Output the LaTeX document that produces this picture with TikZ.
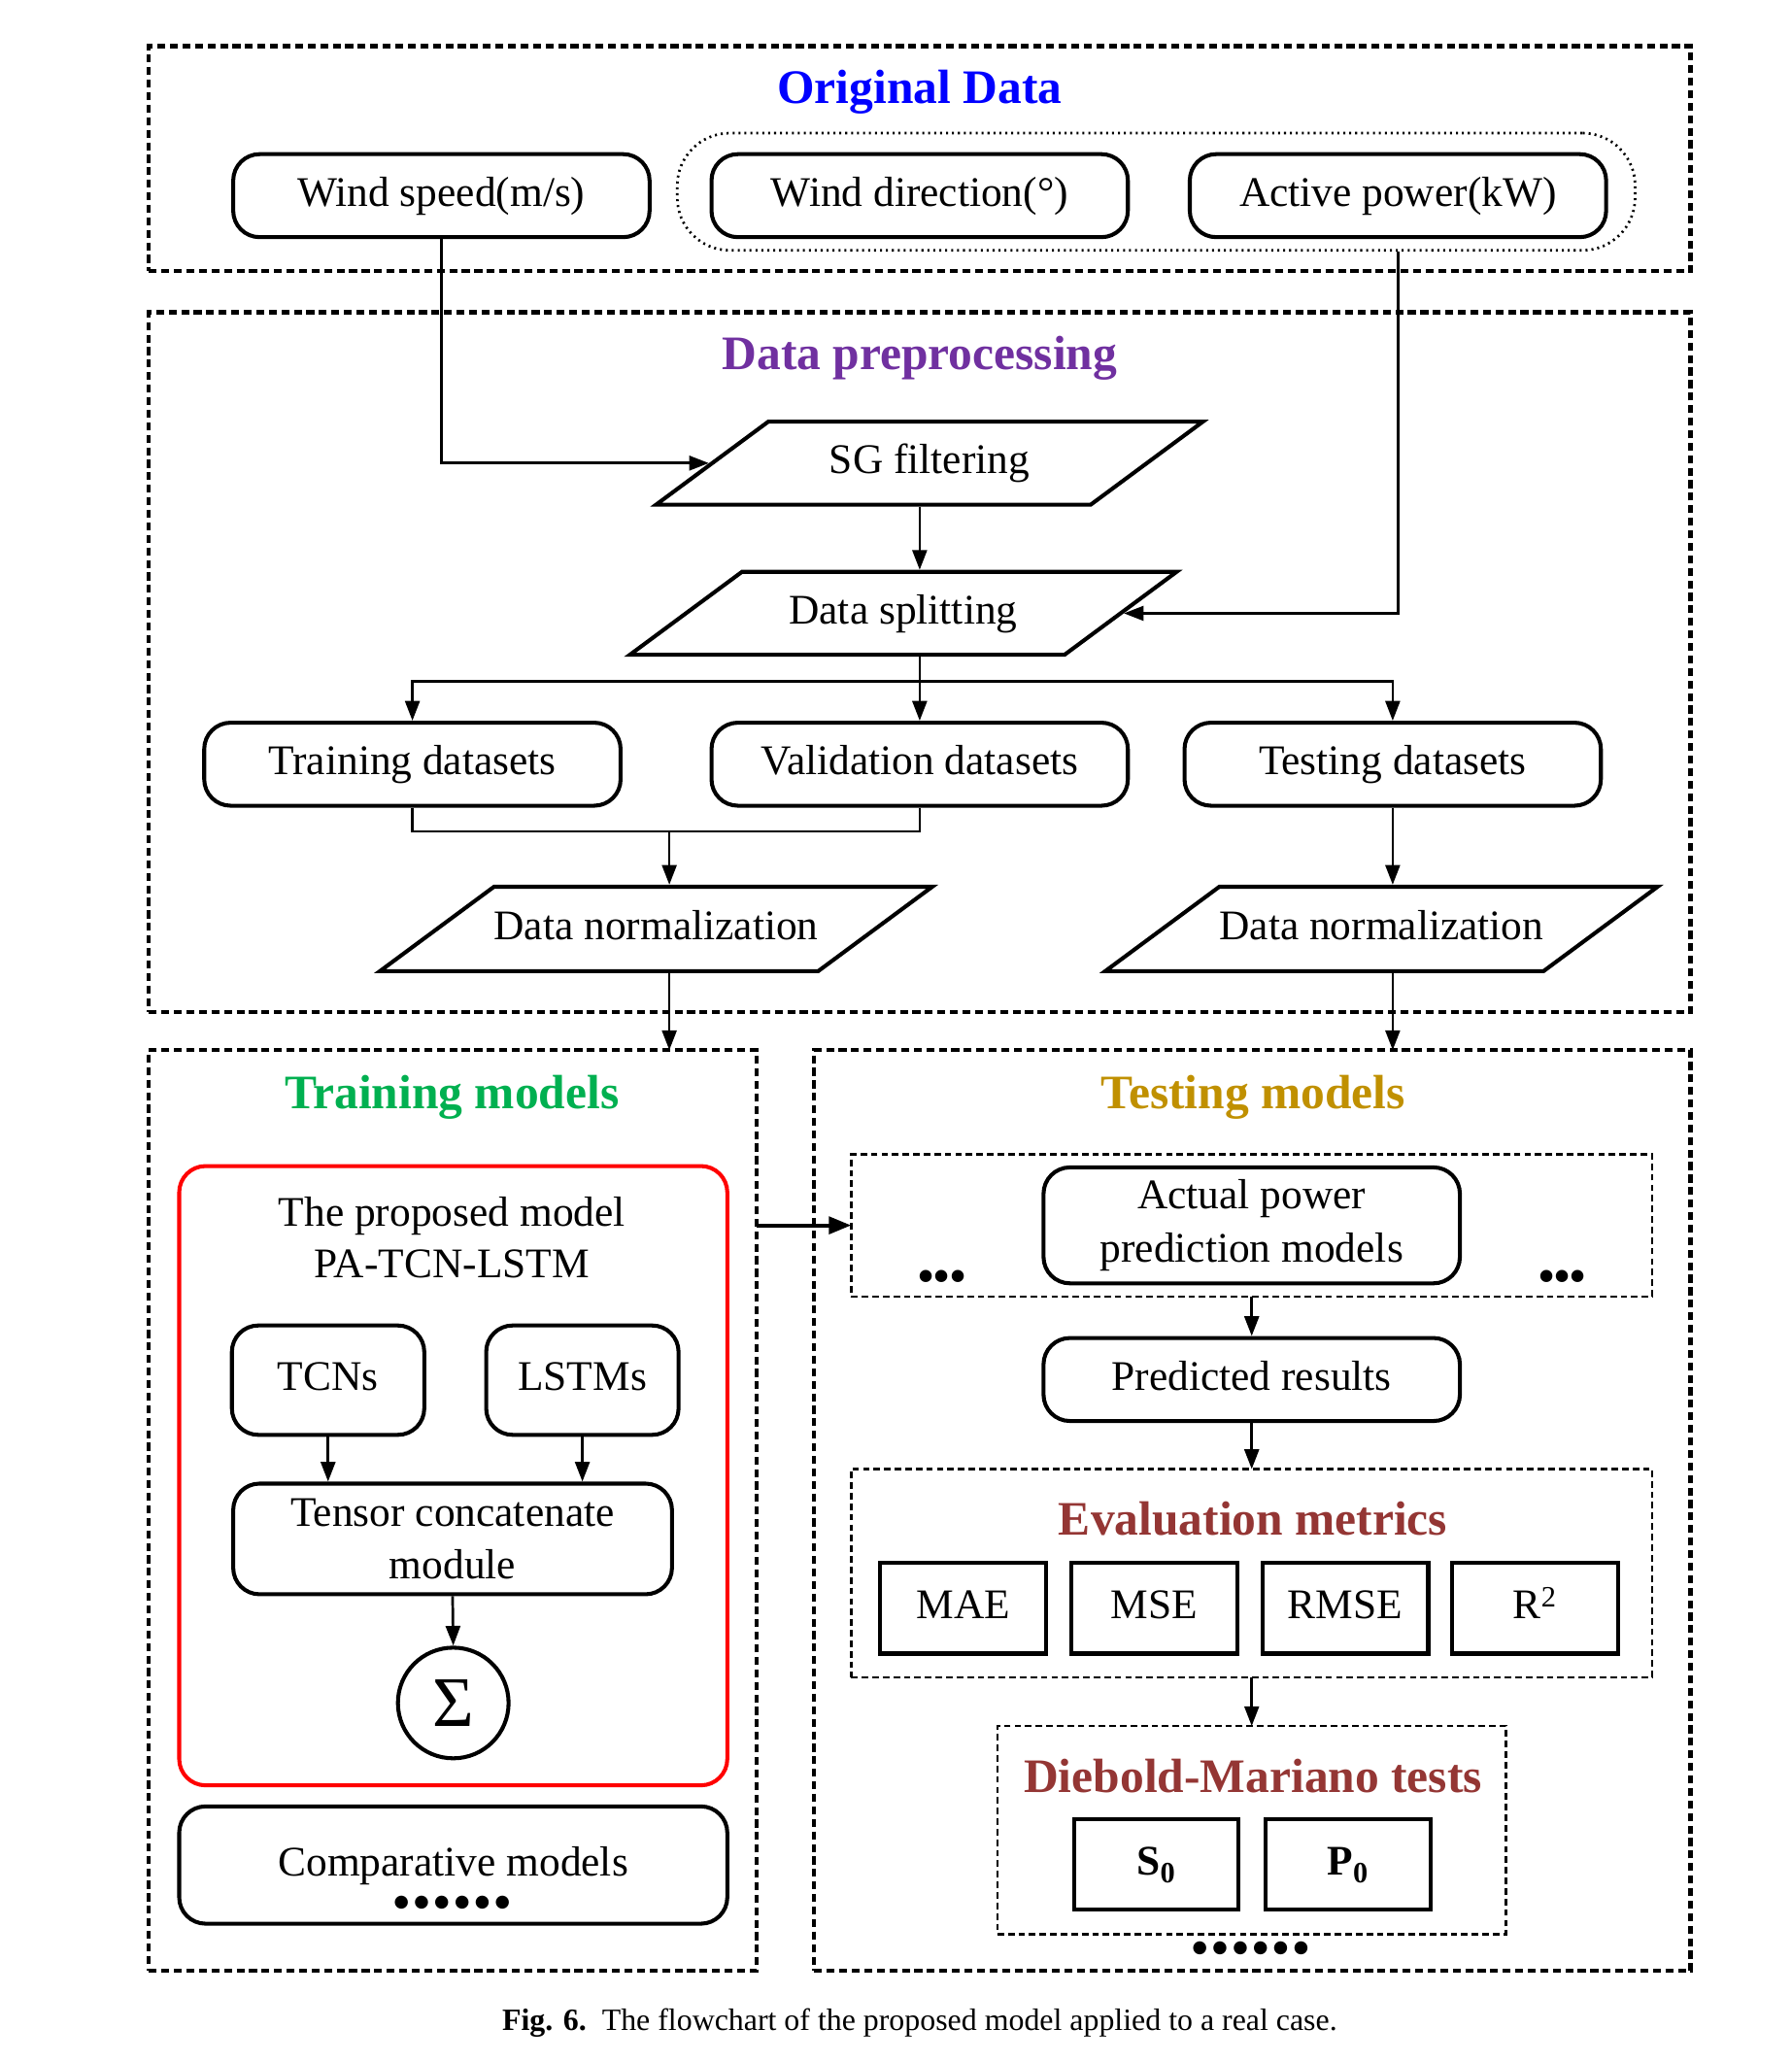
\documentclass[tikz,border=0pt]{standalone}
\usepackage{fontspec}
\setmainfont{Liberation Serif}
\newfontfamily\dotfont{DejaVu Sans}
\usetikzlibrary{arrows.meta,shapes.geometric}

\definecolor{oriBlue}{RGB}{0,0,255}
\definecolor{prePurple}{RGB}{112,48,160}
\definecolor{trnGreen}{RGB}{0,176,80}
\definecolor{tstGold}{RGB}{192,144,0}
\definecolor{evRed}{RGB}{148,54,52}

\newcommand{\sixdots}{●\kern4pt●\kern4pt●\kern4pt●\kern4pt●\kern4pt●}

\tikzset{every picture/.style={line width=2pt}}
\tikzset{
  rbox/.style={draw, line width=3pt, rounded corners=20pt, minimum width=316pt, minimum height=63pt, inner sep=2pt, text height=23pt, text depth=7pt, align=center, font=\fontsize{32}{40}\selectfont},
  rbox2/.style={rbox, text height={}, text depth={}},
  sbox/.style={draw, line width=3pt, minimum width=126pt, minimum height=69pt, inner sep=2pt, text height=23pt, text depth=7pt, font=\fontsize{32}{40}\selectfont},
  para/.style={draw, line width=3pt, trapezium, trapezium left angle=36.5, trapezium right angle=143.5, trapezium stretches body, minimum width=415pt, inner xsep=0pt, inner ysep=16.5pt, text height=23pt, text depth=7pt, font=\fontsize{32}{40}\selectfont},
  frame/.style={draw, line width=3pt, dash pattern=on 6pt off 3.5pt, outer sep=0pt},
  subframe/.style={draw, line width=2pt, dash pattern=on 5pt off 3pt, outer sep=0pt},
  title/.style={font=\bfseries\fontsize{36.5}{40}\selectfont},
  txt/.style={align=center, font=\fontsize{32}{39}\selectfont},
  dots/.style={inner sep=0pt, font=\dotfont\fontsize{13}{13}\selectfont},
  arr/.style={-{Triangle[length=15pt,width=11pt]}, line width=2pt},
  bigarr/.style={-{Triangle[length=17pt,width=13pt]}, line width=3pt},
}

\begin{document}
\begin{tikzpicture}[x=1pt,y=1pt,yscale=-1,xscale=1]
\useasboundingbox (0,0) rectangle (1360,1565);

%Frames
\node[frame, minimum width=1170pt, minimum height=171pt] (origFrame) at (698,120.5) {};
\node[frame, minimum width=1170pt, minimum height=531pt] (preFrame) at (698,502.5) {};
\node[frame, minimum width=461pt, minimum height=699pt] (trainFrame) at (343.5,1146.5) {};
\node[frame, minimum width=665pt, minimum height=699pt] (testFrame) at (950.5,1146.5) {};

% Original data
\node[title, text=oriBlue] (tOrig) at (698,70) {Original Data};
\node[draw, line width=2pt, dash pattern=on 1.5pt off 3pt, rounded corners=40pt, minimum width=727pt, minimum height=89pt] (grp) at (877.5,145.5) {};
\node[rbox] (ws) at (335,148.5) {Wind speed(m/s)};
\node[rbox] (wd) at (698,148.5) {Wind direction(°)};
\node[rbox] (ap) at (1061,148.5) {Active power(kW)};

% Data preprocessing
\node[title, text=prePurple] (tPre) at (698,272) {Data preprocessing};
\node[para] (sg) at (705.5,351.5) {SG filtering};
\node[para] (ds) at (685.5,465.5) {Data splitting};
\node[rbox] (tr) at (313,580) {Training datasets};
\node[rbox] (vd) at (698,580) {Validation datasets};
\node[rbox] (te) at (1057,580) {Testing datasets};
\node[para, inner ysep=17pt, minimum width=416pt] (dn1) at (498,705) {Data normalization};
\node[para, inner ysep=17pt, minimum width=416pt] (dn2) at (1048.5,705) {Data normalization};
\coordinate (spl) at (698,517);
\coordinate (mrg) at (508,631);

% Training models
\node[title, text=trnGreen] (tTrain) at (343,833) {Training models};
\node[draw=red, line width=3pt, rounded corners=20pt, minimum width=416pt, minimum height=470pt] (propFrame) at (344,1120) {};
\node[txt] (prop) at (343,939) {The proposed model\\PA-TCN-LSTM};
\node[rbox, minimum width=146pt, minimum height=83pt] (tcn) at (249,1047.5) {TCNs};
\node[rbox, minimum width=146pt, minimum height=83pt] (lstm) at (442,1047.5) {LSTMs};
\node[rbox2, minimum width=333pt, minimum height=84pt] (tcm) at (343.5,1168) {Tensor concatenate\\module};
\node[draw, circle, line width=3pt, minimum size=84pt, inner sep=0pt, font=\fontsize{54}{54}\selectfont] (sigma) at (344,1292.5) {Σ};
\node[rbox, minimum width=416pt, minimum height=89pt] (cm) at (344,1415.5) {Comparative models};
\node[dots] (cmDots) at (343,1444) {\sixdots};

% Testing models
\node[title, text=tstGold] (tTest) at (951,833) {Testing models};
\node[subframe, minimum width=608pt, minimum height=108pt] (pmFrame) at (950,930) {};
\node[rbox2, minimum height=88pt] (apm) at (950,930) {Actual power\\prediction models};
\node[dots, font=\bfseries\fontsize{34}{34}\selectfont] (pmDotsL) at (715,972) {•••};
\node[dots, font=\bfseries\fontsize{34}{34}\selectfont] (pmDotsR) at (1186,972) {•••};
\node[rbox] (pr) at (950,1047) {Predicted results};

\node[subframe, minimum width=608pt, minimum height=158pt] (evFrame) at (950,1194) {};
\node[title, text=evRed] (tEval) at (951,1153) {Evaluation metrics};
\node[sbox] (mae) at (731,1220.5) {MAE};
\node[sbox] (mse) at (876,1220.5) {MSE};
\node[sbox] (rmse) at (1021,1220.5) {RMSE};
\node[sbox] (r2) at (1165,1220.5) {R\textsuperscript{2}};

\node[subframe, minimum width=386pt, minimum height=158pt] (dmFrame) at (950,1389) {};
\node[title, text=evRed] (tDM) at (951,1348) {Diebold-Mariano tests};
\node[sbox, minimum width=125pt, minimum height=68pt, font=\bfseries\fontsize{32}{40}\selectfont] (s0) at (877.5,1415) {S\textsubscript{0}};
\node[sbox, minimum width=125pt, minimum height=68pt, font=\bfseries\fontsize{32}{40}\selectfont] (p0) at (1023,1415) {P\textsubscript{0}};
\node[dots] (dmDots) at (949,1479) {\sixdots};

% Caption
\node[font=\fontsize{23.5}{28}\selectfont] (cap) at (698,1535) {\textbf{Fig. 6.}\enspace The flowchart of the proposed model applied to a real case.};

%Connectors
\draw[arr] (ws.south) |- (sg.left side);
\draw[arr] (sg.south -| vd.north) -- (ds.north -| vd.north);
\draw[arr] (grp.south -| ap.south) |- (ds.right side);
\draw[arr] (ds.south -| vd.north) -- (vd.north);
\draw[arr] (spl) -| (tr.north);
\draw[arr] (spl) -| (te.north);
\draw (tr.south) |- (mrg);
\draw (vd.south) |- (mrg);
\draw[arr] (mrg) -- (mrg |- dn1.north);
\draw[arr] (te.south) -- (te.south |- dn2.north);
\draw[arr] (mrg |- dn1.south) -- (mrg |- trainFrame.north);
\draw[arr] (te.south |- dn2.south) -- (te.south |- testFrame.north);

\draw[arr] (tcn.south) -- (tcn.south |- tcm.north);
\draw[arr] (lstm.south) -- (lstm.south |- tcm.north);
\draw[arr] (tcm.south) -- (sigma.north);

\draw[bigarr] (pmFrame.west -| trainFrame.east) -- (pmFrame.west);
\draw[arr] (pmFrame.south) -- (pr.north);
\draw[arr] (pr.south) -- (evFrame.north);
\draw[arr] (evFrame.south) -- (dmFrame.north);

\end{tikzpicture}
\end{document}
